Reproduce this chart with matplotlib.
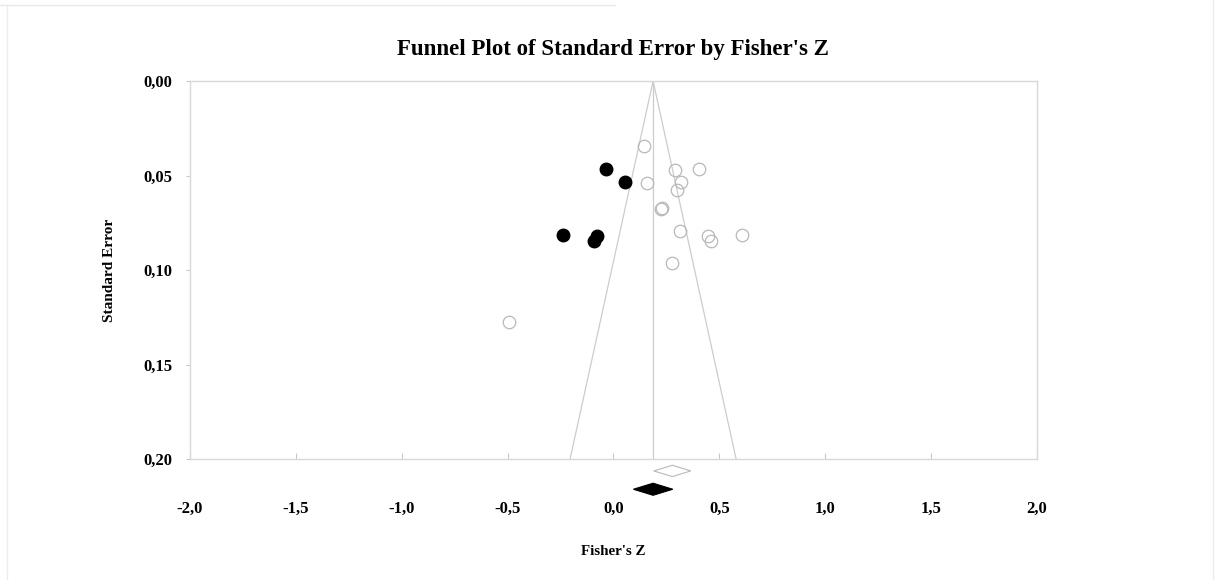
import matplotlib.pyplot as plt
from matplotlib.patches import Polygon
from matplotlib.lines import Line2D

# observed studies (open circles)
obs_z = [0.146, 0.290, 0.405, 0.157, 0.319, 0.300, 0.226, 0.230, 0.314, 0.448, 0.459, 0.608, 0.275, -0.493]
obs_se = [0.0342, 0.0471, 0.0467, 0.0538, 0.0534, 0.0577, 0.0676, 0.0672, 0.0792, 0.0820, 0.0845, 0.0813, 0.0961, 0.1275]

# imputed studies (filled circles)
imp_z = [-0.034, 0.053, -0.237, -0.076, -0.091]
imp_se = [0.0467, 0.0536, 0.0815, 0.0820, 0.0845]

# summary estimates: observed and adjusted (lower, point, upper)
obs_est = [0.190, 0.278, 0.365]
adj_est = [0.094, 0.187, 0.280]
se_max = 0.20

xticks = [-2.0, -1.5, -1.0, -0.5, 0.0, 0.5, 1.0, 1.5, 2.0]
yticks = [0.00, 0.05, 0.10, 0.15, 0.20]

plt.rcParams['font.family'] = ['Liberation Serif', 'DejaVu Serif']

fig = plt.figure(figsize=(12.17, 5.8), dpi=100)
ax = fig.add_axes([0.1561, 0.2086, 0.696, 0.6517])

gray = '#cccccc'
center = adj_est[1]

# funnel
ax.plot([center - 1.96 * se_max, center, center + 1.96 * se_max], [se_max, 0, se_max],
        color=gray, lw=0.9, zorder=1)
ax.plot([center, center], [0, se_max], color=gray, lw=0.9, zorder=1)

ax.plot(obs_z, obs_se, 'o', mfc='none', mec='#b8b8b8', mew=0.9, ms=9, zorder=3)
ax.plot(imp_z, imp_se, 'o', mfc='black', mec='black', ms=9, zorder=3)

# diamonds below the axis
def diamond(est, y, h, fc, ec):
    lo, mid, hi = est
    pts = [(lo, y), (mid, y - h), (hi, y), (mid, y + h)]
    ax.add_patch(Polygon(pts, closed=True, facecolor=fc, edgecolor=ec, lw=0.8, clip_on=False))

diamond(obs_est, 0.2063, 0.003, 'white', '#b8b8b8')
diamond(adj_est, 0.2160, 0.0032, 'black', 'black')

ax.set_xlim(-2.0, 2.0)
ax.set_ylim(0.20, 0.00)
ax.set_xticks(xticks)
ax.set_yticks(yticks)
ax.set_xticklabels([f'{t:.1f}'.replace('.', ',') for t in xticks])
ax.set_yticklabels([f'{t:.2f}'.replace('.', ',') for t in yticks])

for sp in ax.spines.values():
    sp.set_color('#d8d8d8')
    sp.set_linewidth(1.0)

ax.tick_params(axis='x', direction='in', length=4, color='#c8c8c8', pad=30.5, labelsize=12)
ax.tick_params(axis='y', direction='out', length=3, color='#c8c8c8', pad=9.5, labelsize=12)
for lab in ax.get_xticklabels() + ax.get_yticklabels():
    lab.set_fontweight('bold')

ax.set_title("Funnel Plot of Standard Error by Fisher's Z", fontsize=16.5, fontweight='bold', pad=18.5)
ax.set_xlabel("Fisher's Z", fontsize=10.8, fontweight='bold', labelpad=20)
ax.set_ylabel('Standard Error', fontsize=11, fontweight='bold', labelpad=20)

# faint frame from the screenshot
fig.add_artist(Line2D([0, 0.505], [0.991, 0.991], transform=fig.transFigure, color='#e8e8e8', lw=1))
fig.add_artist(Line2D([0.006, 0.006], [0, 0.991], transform=fig.transFigure, color='#ececec', lw=1))
fig.add_artist(Line2D([0.9967, 0.9967], [0, 1], transform=fig.transFigure, color='#ececec', lw=1))

fig.savefig('out.png', dpi=100)
